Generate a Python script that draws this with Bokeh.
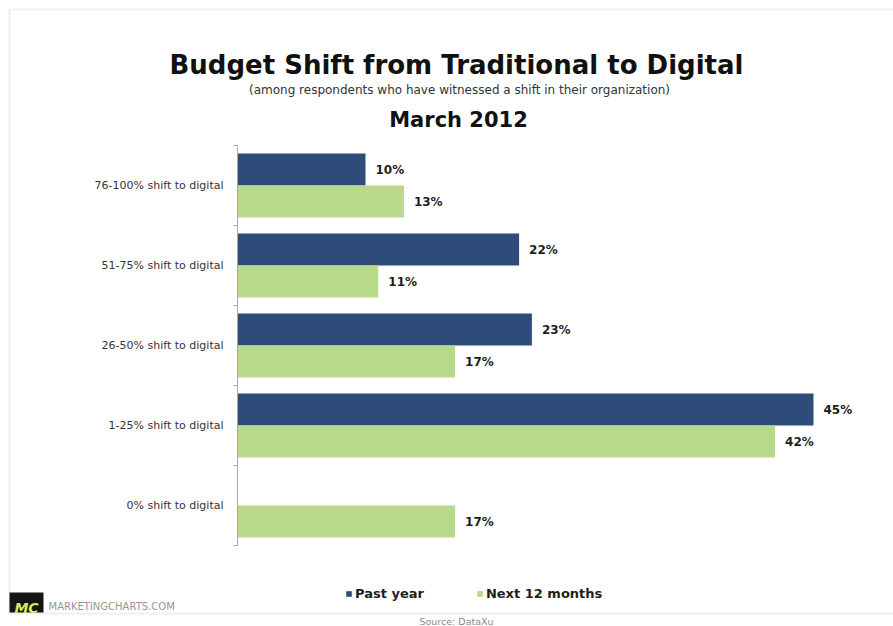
import math
from bokeh.plotting import figure
from bokeh.models import (ColumnDataSource, Range1d, Label, Legend, LegendItem, BoxAnnotation)
from bokeh.core.properties import value
from bokeh.embed import file_html
from bokeh.resources import INLINE

categories = ["0% shift to digital", "1-25% shift to digital", "26-50% shift to digital",
              "51-75% shift to digital", "76-100% shift to digital"]
past_year = [None, 45, 23, 22, 10]
next_12_months = [17, 42, 17, 11, 13]

DARK = "#2D4C7A"
GREEN = "#B8D98C"
FONT = "DejaVu Sans"

W, H = 893, 626
# layout: value axis origin at canvas x=237, 12.8 px per percent; category bands 80 px tall, 145..545
PXX, X0 = 12.8, 237
PXY, YTOP, YBOT = 80, 145, 545
n = len(categories)
x_range = Range1d(-X0 / PXX, (W - X0) / PXX)
y_range = Range1d(-(H - YBOT) / PXY, n + YTOP / PXY)

p = figure(width=W, height=H, output_backend="svg", toolbar_location=None,
           x_range=x_range, y_range=y_range, x_axis_location=None, y_axis_location=None,
           min_border=0)
p.outline_line_color = None
p.grid.visible = False
p.background_fill_color = "white"
p.border_fill_color = "white"

centers = [i + 0.5 for i in range(n)]
py_x = [v for v in past_year if v is not None]
py_y = [c + 0.2 for c, v in zip(centers, past_year) if v is not None]
nm_y = [c - 0.2 for c in centers]

src_py = ColumnDataSource(dict(y=py_y, x=py_x, lab=[f"{v}%" for v in py_x]))
src_nm = ColumnDataSource(dict(y=nm_y, x=next_12_months, lab=[f"{v}%" for v in next_12_months]))

r1 = p.hbar(y="y", right="x", left=0, height=0.4, source=src_py, fill_color=DARK, line_color=None)
r2 = p.hbar(y="y", right="x", left=0, height=0.4, source=src_nm, fill_color=GREEN, line_color=None)

for src in (src_py, src_nm):
    p.text(x="x", y="y", text="lab", source=src, x_offset=10, text_baseline="middle",
           text_font=value(FONT), text_font_style="bold", text_font_size="12px", text_color="#1E1E1E")

# category axis: line, boundary ticks and labels
p.segment(x0=[0], x1=[0], y0=[0], y1=[n], line_color="#A8A8A8", line_width=1)
p.ray(x=[0] * (n + 1), y=list(range(n + 1)), length=4, length_units="screen", angle=math.pi,
      line_color="#A8A8A8", line_width=1)
cat_src = ColumnDataSource(dict(y=centers, x=[0] * n, t=categories))
p.text(x="x", y="y", text="t", source=cat_src, x_offset=-14, text_align="right",
       text_baseline="middle", text_font=value(FONT), text_font_size="11px", text_color="#333333")

legend = Legend(items=[LegendItem(label="Past year", renderers=[r1]),
                       LegendItem(label="Next 12 months", renderers=[r2])],
                orientation="horizontal", location=(345, H - 601),
                glyph_width=7, glyph_height=7, label_standoff=3, spacing=52, label_height=14,
                label_text_font=FONT, label_text_font_style="bold", label_text_font_size="13px",
                label_text_color="#1E1E1E", background_fill_alpha=0, border_line_color=None,
                padding=0, margin=0)
p.add_layout(legend, "center")

def lab(text, cx, cy, size, bold=False, color="#111111", align="center", style=None):
    # cx, cy: canvas px from top-left, cy is the text baseline
    p.add_layout(Label(x=cx, y=H - cy, x_units="screen", y_units="screen", text=text,
                       text_font=FONT, text_font_size=size,
                       text_font_style=style or ("bold" if bold else "normal"),
                       text_color=color, text_align=align, text_baseline="alphabetic"))

# outer frame
p.add_layout(BoxAnnotation(left=9, right=W + 10, top=H - 9, bottom=H - 613,
                           left_units="screen", right_units="screen", top_units="screen",
                           bottom_units="screen", fill_alpha=0, line_color="#CACACA", line_width=2))

lab("Budget Shift from Traditional to Digital", 456, 64, "26px", bold=True)
lab("(among respondents who have witnessed a shift in their organization)", 459, 89, "12px",
    color="#333333")
lab("March 2012", 458, 119, "21px", bold=True)

# footer
p.add_layout(BoxAnnotation(left=9, right=43, top=H - 592, bottom=H - 612,
                           left_units="screen", right_units="screen", top_units="screen",
                           bottom_units="screen", fill_color="#151515", fill_alpha=1, line_color=None))
lab("MC", 26, 607, "14px", color="#DDE85E", style="bold italic")
lab("MARKETINGCHARTS.COM", 48, 606, "10px", color="#959595", align="left")
lab("Source: DataXu", 456, 621, "9.5px", color="#8A8A8A")

open("out.html", "w").write(file_html(p, INLINE))
